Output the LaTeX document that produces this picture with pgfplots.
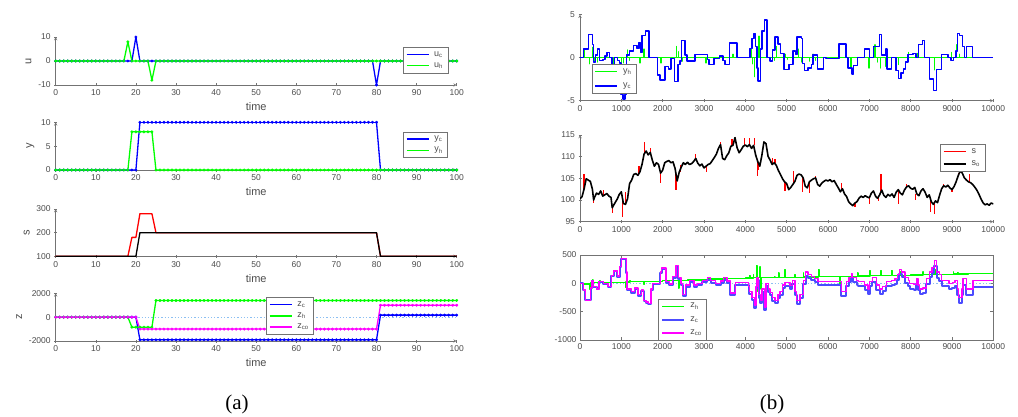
\documentclass[border=0pt]{standalone}
\usepackage{fontspec}
\setmainfont{Liberation Sans}
\newfontfamily\capfont{Liberation Serif}
\usepackage{pgfplots}
\pgfplotsset{compat=1.18}
\usepackage{pgfplotstable}
\definecolor{axgray}{gray}{0.45}
\definecolor{txtgray}{gray}{0.3}
\definecolor{mblue}{rgb}{0,0,1}
\definecolor{mgreen}{rgb}{0,1,0}
\definecolor{mmag}{rgb}{1,0,1}
\definecolor{zline}{rgb}{0.55,0.75,0.95}
\definecolor{zcblue}{rgb}{0.3,0.3,1}

\pgfplotstableread{
t uc uh yc yh s so zc zh zco
0 0 0 0 0 100 100 0 0 0
1 0 0 0 0 100 100 0 0 0
2 0 0 0 0 100 100 0 0 0
3 0 0 0 0 100 100 0 0 0
4 0 0 0 0 100 100 0 0 0
5 0 0 0 0 100 100 0 0 0
6 0 0 0 0 100 100 0 0 0
7 0 0 0 0 100 100 0 0 0
8 0 0 0 0 100 100 0 0 0
9 0 0 0 0 100 100 0 0 0
10 0 0 0 0 100 100 0 0 0
11 0 0 0 0 100 100 0 0 0
12 0 0 0 0 100 100 0 0 0
13 0 0 0 0 100 100 0 0 0
14 0 0 0 0 100 100 0 0 0
15 0 0 0 0 100 100 0 0 0
16 0 0 0 0 100 100 0 0 0
17 0 0 0 0 100 100 0 0 0
18 0 8 0 0 100 100 0 0 0
19 0 0 0 8 180 100 0 -840 0
20 10 0 0 8 180 100 0 -840 0
21 0 0 10 8 280 200 -1900 -840 -1000
22 0 0 10 8 280 200 -1900 -840 -1000
23 0 0 10 8 280 200 -1900 -840 -1000
24 0 -8 10 8 280 200 -1900 -840 -1000
25 0 0 10 0 200 200 -1900 1400 -1000
26 0 0 10 0 200 200 -1900 1400 -1000
27 0 0 10 0 200 200 -1900 1400 -1000
28 0 0 10 0 200 200 -1900 1400 -1000
29 0 0 10 0 200 200 -1900 1400 -1000
30 0 0 10 0 200 200 -1900 1400 -1000
31 0 0 10 0 200 200 -1900 1400 -1000
32 0 0 10 0 200 200 -1900 1400 -1000
33 0 0 10 0 200 200 -1900 1400 -1000
34 0 0 10 0 200 200 -1900 1400 -1000
35 0 0 10 0 200 200 -1900 1400 -1000
36 0 0 10 0 200 200 -1900 1400 -1000
37 0 0 10 0 200 200 -1900 1400 -1000
38 0 0 10 0 200 200 -1900 1400 -1000
39 0 0 10 0 200 200 -1900 1400 -1000
40 0 0 10 0 200 200 -1900 1400 -1000
41 0 0 10 0 200 200 -1900 1400 -1000
42 0 0 10 0 200 200 -1900 1400 -1000
43 0 0 10 0 200 200 -1900 1400 -1000
44 0 0 10 0 200 200 -1900 1400 -1000
45 0 0 10 0 200 200 -1900 1400 -1000
46 0 0 10 0 200 200 -1900 1400 -1000
47 0 0 10 0 200 200 -1900 1400 -1000
48 0 0 10 0 200 200 -1900 1400 -1000
49 0 0 10 0 200 200 -1900 1400 -1000
50 0 0 10 0 200 200 -1900 1400 -1000
51 0 0 10 0 200 200 -1900 1400 -1000
52 0 0 10 0 200 200 -1900 1400 -1000
53 0 0 10 0 200 200 -1900 1400 -1000
54 0 0 10 0 200 200 -1900 1400 -1000
55 0 0 10 0 200 200 -1900 1400 -1000
56 0 0 10 0 200 200 -1900 1400 -1000
57 0 0 10 0 200 200 -1900 1400 -1000
58 0 0 10 0 200 200 -1900 1400 -1000
59 0 0 10 0 200 200 -1900 1400 -1000
60 0 0 10 0 200 200 -1900 1400 -1000
61 0 0 10 0 200 200 -1900 1400 -1000
62 0 0 10 0 200 200 -1900 1400 -1000
63 0 0 10 0 200 200 -1900 1400 -1000
64 0 0 10 0 200 200 -1900 1400 -1000
65 0 0 10 0 200 200 -1900 1400 -1000
66 0 0 10 0 200 200 -1900 1400 -1000
67 0 0 10 0 200 200 -1900 1400 -1000
68 0 0 10 0 200 200 -1900 1400 -1000
69 0 0 10 0 200 200 -1900 1400 -1000
70 0 0 10 0 200 200 -1900 1400 -1000
71 0 0 10 0 200 200 -1900 1400 -1000
72 0 0 10 0 200 200 -1900 1400 -1000
73 0 0 10 0 200 200 -1900 1400 -1000
74 0 0 10 0 200 200 -1900 1400 -1000
75 0 0 10 0 200 200 -1900 1400 -1000
76 0 0 10 0 200 200 -1900 1400 -1000
77 0 0 10 0 200 200 -1900 1400 -1000
78 0 0 10 0 200 200 -1900 1400 -1000
79 0 0 10 0 200 200 -1900 1400 -1000
80 -10 0 10 0 200 200 -1900 1400 -1000
81 0 0 0 0 100 100 170 1400 1000
82 0 0 0 0 100 100 170 1400 1000
83 0 0 0 0 100 100 170 1400 1000
84 0 0 0 0 100 100 170 1400 1000
85 0 0 0 0 100 100 170 1400 1000
86 0 0 0 0 100 100 170 1400 1000
87 0 0 0 0 100 100 170 1400 1000
88 0 0 0 0 100 100 170 1400 1000
89 0 0 0 0 100 100 170 1400 1000
90 0 0 0 0 100 100 170 1400 1000
91 0 0 0 0 100 100 170 1400 1000
92 0 0 0 0 100 100 170 1400 1000
93 0 0 0 0 100 100 170 1400 1000
94 0 0 0 0 100 100 170 1400 1000
95 0 0 0 0 100 100 170 1400 1000
96 0 0 0 0 100 100 170 1400 1000
97 0 0 0 0 100 100 170 1400 1000
98 0 0 0 0 100 100 170 1400 1000
99 0 0 0 0 100 100 170 1400 1000
100 0 0 0 0 100 100 170 1400 1000
}\lefttab

\pgfplotsset{
  base/.style={
    scale only axis,
    anchor=south west,
    axis line style={axgray, line width=0.5pt, -},
    tick style={axgray, line width=0.5pt},
    major tick length=3pt,
    tick align=inside,
    ticklabel style={font=\fontsize{8.5}{9}\selectfont, text=txtgray},
    /pgf/number format/assume math mode=true,
    /pgf/number format/1000 sep={},
    scaled ticks=false,
    label style={font=\fontsize{11}{12}\selectfont, text=txtgray},
    legend style={draw=axgray, fill=white, font=\fontsize{9}{10}\selectfont, text=txtgray, inner xsep=3pt, inner ysep=2pt,
      row sep=1pt, cells={anchor=west}, /tikz/every odd column/.append style={column sep=3pt}},
    legend image code/.code={\draw[##1] (0pt,0pt) -- (22pt,0pt);},
    every axis plot/.append style={line width=1.3pt, line join=round},
  },
  boxoff/.style={axis x line=bottom, axis y line=left},
  leftax/.style={base, boxoff, width=401pt, height=48pt, xmin=0, xmax=100, xtick={0,10,...,100}, xlabel={time}},
  rightax/.style={base, width=413.3pt, xmin=0, xmax=10000, xtick={0,1000,...,10000}, legend style={row sep=3.5pt}},
  mk/.style={mark=*, mark size=1.3pt, mark options={line width=0.4pt}},
}

\begin{document}
\begin{tikzpicture}
\path[use as bounding box] (0,0) rectangle (1018pt,416pt);

% ---------- (a) u
\begin{axis}[leftax, at={(55.7pt,331pt)}, ymin=-10, ymax=10, ytick={-10,0,10}, ylabel={u},
  legend style={at={(0.979,0.79)}, anchor=north east}]
\addplot[mblue, mk] table[x=t,y=uc]{\lefttab};
\addplot[mgreen, mk] table[x=t,y=uh]{\lefttab};
\legend{u\textsubscript{c}, u\textsubscript{h}}
\end{axis}

% ---------- (a) y
\begin{axis}[leftax, at={(55.7pt,246pt)}, height=47.7pt, ymin=0, ymax=10, ytick={0,5,10}, ylabel={y},
  legend style={at={(0.978,0.803)}, anchor=north east}]
\addplot[mblue, mk] table[x=t,y=yc]{\lefttab};
\addplot[mgreen, mk] table[x=t,y=yh]{\lefttab};
\legend{y\textsubscript{c}, y\textsubscript{h}}
\end{axis}

% ---------- (a) s
\begin{axis}[leftax, at={(55.7pt,159.7pt)}, height=47.3pt, ymin=100, ymax=300, ytick={100,200,300}, ylabel={s}]
\addplot[red] table[x=t,y=s]{\lefttab};
\addplot[black] table[x=t,y=so]{\lefttab};
\end{axis}

% ---------- (a) z
\begin{axis}[leftax, at={(55.7pt,75pt)}, height=47.7pt, ymin=-2000, ymax=2000, ytick={-2000,0,2000}, ylabel={z},
  legend style={at={(0.524,0.916)}, anchor=north west}]
\addplot[zline, dotted, line width=1pt, forget plot] coordinates {(0,0) (100,0)};
\addplot[mblue, mk] table[x=t,y=zc]{\lefttab};
\addplot[mgreen, mk] table[x=t,y=zh]{\lefttab};
\addplot[mmag, mk] table[x=t,y=zco]{\lefttab};
\legend{z\textsubscript{c}, z\textsubscript{h}, z\textsubscript{co}}
\end{axis}

% ---------- (b) y
\begin{axis}[rightax, boxoff, at={(580pt,315.3pt)}, height=86pt, ymin=-5, ymax=5, ytick={-5,0,5},
  legend style={at={(0.028,0.423)}, anchor=north west, row sep=4pt}]
\addplot[mgreen] coordinates {(0,0) (100,0) (100,1.0) (100,0) (230,0) (230,-0.7) (230,0) (300,0) (300,1.2) (300,0)
 (350,0) (350,-0.4) (350,0) (420,0) (420,-0.5) (420,0) (800,0) (800,-0.8) (800,0) (1000,0) (1000,-0.8) (1000,0)
 (1060,0) (1060,-0.6) (1060,0) (1150,0) (1150,0.9) (1150,0) (1200,0) (1200,-0.3) (1200,0) (1450,0) (1450,-0.6) (1450,0)
 (1550,0) (1550,1.0) (1550,0) (1960,0) (1960,-0.6) (1960,0) (2330,0) (2330,1.3) (2330,0) (2380,0) (2380,0.7) (2380,0)
 (2480,0) (2480,-0.4) (2480,0) (3050,0) (3050,-0.6) (3050,0) (3450,0) (3450,-0.3) (3450,0) (3700,0) (3700,0.4) (3700,0)
 (4150,0) (4150,1.0) (4150,0) (4180,0) (4180,-0.7) (4180,0) (4230,0) (4230,-2.2) (4230,0) (4330,0) (4330,2.5) (4330,0)
 (4370,0) (4370,-0.5) (4370,0) (4700,0) (4700,-0.3) (4700,0) (4750,0) (4750,1.3) (4750,0) (4960,0) (4960,0.4) (4960,0)
 (5020,0) (5020,-0.2) (5020,0) (5280,0) (5280,1.0) (5280,0) (5360,0) (5360,-0.5) (5360,0) (5550,0) (5550,-0.4) (5550,0)
 (5640,0) (5640,0.4) (5640,0) (5700,0) (5700,-0.3) (5700,0) (6470,0) (6470,-0.8) (6470,0) (6560,0) (6560,-1.1) (6560,0)
 (6990,0) (6990,-1.2) (6990,0) (7140,0) (7140,1.5) (7140,0) (7200,0) (7200,-0.5) (7200,0) (7270,0) (7270,-1.2) (7270,0)
 (7390,0) (7390,-1.0) (7390,0) (7700,0) (7700,-0.8) (7700,0) (7950,0) (7950,0.6) (7950,0) (8160,0) (8160,0.5) (8160,0)
 (8570,0) (8570,-1.4) (8570,0) (8990,0) (8990,0.6) (8990,0) (9110,0) (9110,1.5) (9110,0) (9180,0) (9180,0.4) (9180,0)
 (10000,0)};
\addplot[mblue, const plot, line width=1.4pt] coordinates {(0,0) (80,1.0) (200,2.7) (300,1.5) (320,-0.5) (380,0.3) (430,1.0) (470,-0.3)
 (560,-0.2) (600,0.2) (650,0.6) (720,0) (770,-0.8) (840,0) (900,-0.3) (950,-0.6) (990,-4.3) (1040,-4.8) (1090,-4.3)
 (1120,0.3) (1200,0.8) (1290,1.4) (1380,1.1) (1430,1.8) (1470,0.6) (1500,2.6) (1590,3.1) (1670,0) (1870,-2.0)
 (1940,-2.6) (2060,-1.0) (2140,-1.3) (2200,-0.1) (2280,-2.8) (2370,-0.8) (2420,-0.4) (2460,2.0) (2540,0.3)
 (2590,-0.4) (2780,0.4) (3090,-0.2) (3120,-0.8) (3240,-0.1) (3380,0.2) (3460,-0.3) (3510,-0.8) (3610,1.7) (3800,0)
 (4110,1.1) (4160,2.2) (4210,2.8) (4250,1.3) (4280,-1.2) (4310,-2.7) (4360,1.0) (4400,3.1) (4460,4.4) (4520,0)
 (4600,-0.4) (4660,0.9) (4720,2.4) (4790,1.6) (4850,0.5) (4940,-1.4) (5060,-0.8) (5150,0.8) (5220,0.4) (5250,2.4)
 (5360,2.2) (5390,-0.7) (5430,-1.5) (5520,-1.2) (5600,-0.8) (5640,0.3) (5750,-1.3) (5890,0) (5950,-0.1) (6100,-0.1)
 (6270,1.6) (6440,0) (6480,-1.2) (6580,-1.9) (6620,-0.9) (6720,0) (6880,1.0) (7000,0) (7100,1.3) (7250,2.7)
 (7290,0.3) (7400,1.0) (7430,-1.3) (7530,0) (7650,-1.5) (7700,-2.4) (7770,-1.8) (7830,-1.3) (7880,-0.5) (7940,0.4)
 (8060,0.5) (8130,0) (8190,1.5) (8280,2.0) (8340,0) (8450,-2.5) (8550,-3.8) (8630,-1.4) (8740,0.4) (8900,0)
 (8980,-0.3) (9030,0) (9100,0.8) (9130,2.8) (9180,2.6) (9250,1.3) (9300,0) (9350,1.3) (9500,0) (10000,0)};
\legend{y\textsubscript{h}, y\textsubscript{c}}
\end{axis}

% ---------- (b) s
\begin{axis}[rightax, boxoff, at={(580pt,194.3pt)}, height=86.7pt, ymin=95, ymax=115, ytick={95,100,...,115},
  legend style={at={(0.98,0.896)}, anchor=north east, row sep=2pt}, unbounded coords=jump]
\addplot[red, line width=1.3pt] coordinates {(100,102.6) (100,106.1) (100,nan) (330,100.0) (330,99.3) (330,nan) (560,101) (560,102.3) (560,nan)
 (780,98.2) (780,97.1) (780,nan) (1020,100.5) (1020,96.0) (1020,nan) (1100,99.0) (1100,101.9) (1100,nan)
 (1430,106) (1430,107.8) (1430,nan) (1560,110.6) (1560,113.4) (1560,nan) (1700,111.0) (1700,112.0) (1700,nan)
 (1950,106.2) (1950,103.9) (1950,nan)
 (2320,106) (2320,102.2) (2320,nan) (2430,106.5) (2430,108.1) (2430,nan) (2800,109.6) (2800,110.6) (2800,nan)
 (3060,107.8) (3060,106.5) (3060,nan) (3400,112.8) (3400,113.5) (3400,nan) (3680,112.5) (3680,114.0) (3680,nan)
 (3980,112.4) (3980,114.2) (3980,nan)
 (4100,112.8) (4100,114.2) (4100,nan) (4220,112.6) (4220,114.2) (4220,nan) (4300,108.9) (4300,105.6) (4300,nan)
 (4320,108.5) (4320,106.9) (4320,nan) (4650,108.2) (4650,109.7) (4650,nan) (4720,108.6) (4720,109.5) (4720,nan)
 (4960,104.2) (4960,102.1) (4960,nan) (5160,103.6) (5160,106.8) (5160,nan) (5380,105.5) (5380,101.9) (5380,nan)
 (5560,104.2) (5560,101.6) (5560,nan) (5700,105.1) (5700,105.6) (5700,nan) (6330,102.3) (6330,104.0) (6330,nan)
 (6650,99.3) (6650,98.4) (6650,nan)
 (7000,100.5) (7000,99.0) (7000,nan) (7230,100.8) (7230,99.8) (7230,nan) (7280,102.0) (7280,106.0) (7280,nan)
 (7700,102.4) (7700,99.0) (7700,nan) (7900,103.0) (7900,103.8) (7900,nan) (8120,101.5) (8120,100.0) (8120,nan)
 (8480,100.8) (8480,97.3) (8480,nan)
 (8580,99.0) (8580,96.8) (8580,nan) (8800,103.3) (8800,103.8) (8800,nan) (9000,102.4) (9000,101.8) (9000,nan)
 (9150,105.6) (9150,106.2) (9150,nan) (9420,104.2) (9420,106.0)};
\addplot[black, line width=1.6pt] coordinates {(0,100.3) (50,100.8) (100,102.6) (150,104.9) (200,104.6) (250,104.3) (300,102.5) (330,100.0)
 (350,100.6) (400,101.6) (450,101.3) (500,102.1) (550,100.9) (600,101.2) (650,101.5) (700,100.9) (750,100.6) (780,98.2)
 (800,98.6) (850,99.4) (900,100.2) (950,101.3) (1000,101.9) (1050,99.2) (1100,99.0) (1150,100.3) (1200,103.8)
 (1250,104.6) (1300,105.9) (1350,106.1) (1400,105.7) (1450,106.5) (1500,108.2) (1550,110.6) (1600,111.3) (1650,110.4)
 (1700,111.0) (1750,109.2) (1800,107.8) (1850,108.6) (1900,108.2) (1950,106.2) (2000,106.9) (2050,108.6) (2100,108.9)
 (2150,109.1) (2200,108.6) (2250,108.8) (2300,107.3) (2350,104.4) (2400,106.4) (2450,107.6) (2500,108.6) (2550,108.2)
 (2600,108.7) (2650,108.2) (2700,108.4) (2750,108.9) (2800,109.6) (2850,108.5) (2900,107.9) (2950,108.3) (3000,107.4)
 (3050,107.8) (3100,108.2) (3150,108.4) (3200,109.1) (3250,109.8) (3300,110.6) (3350,111.9) (3400,112.8) (3450,109.6)
 (3500,109.3) (3550,110.2) (3600,110.9) (3650,112.4) (3700,112.6) (3750,114.4) (3800,112.1) (3850,110.9) (3900,111.6)
 (3950,112.4) (4000,112.7) (4050,112.3) (4100,112.8) (4150,111.9) (4200,112.6) (4250,110.4) (4300,108.9) (4350,107.8)
 (4400,110.3) (4450,113.4) (4500,113.0) (4550,110.1) (4600,109.2) (4650,108.2) (4700,108.6) (4750,108.0) (4800,106.8)
 (4850,105.9) (4900,104.9) (4950,104.2) (5000,103.8) (5050,102.4) (5100,102.9) (5150,103.6) (5200,104.3) (5250,105.7)
 (5300,106.0) (5350,105.8) (5400,105.1) (5450,103.2) (5500,102.8) (5550,104.2) (5600,104.6) (5650,104.9) (5700,105.1)
 (5750,103.6) (5800,103.2) (5850,103.9) (5900,104.3) (5950,104.6) (6000,104.4) (6050,104.7) (6100,104.2) (6150,104.5)
 (6200,103.6) (6250,102.8) (6300,101.9) (6350,102.6) (6400,101.4) (6450,100.8) (6500,99.6) (6550,99.1) (6600,98.7)
 (6650,99.3) (6700,99.6) (6750,100.4) (6800,100.9) (6850,100.6) (6900,101.0) (6950,100.7) (7000,100.5) (7050,101.6)
 (7100,102.1) (7150,100.9) (7200,100.4) (7250,101.2) (7300,102.3) (7350,101.1) (7400,100.6) (7450,101.3) (7500,100.9)
 (7550,101.4) (7600,100.6) (7650,101.8) (7700,102.4) (7750,101.6) (7800,101.2) (7850,102.3) (7900,103.0) (7950,103.3)
 (8000,102.7) (8050,102.5) (8100,102.9) (8150,101.4) (8200,101.0) (8250,102.1) (8300,102.6) (8350,101.8) (8400,100.6)
 (8450,101.2) (8500,99.6) (8550,99.0) (8600,99.8) (8650,99.4) (8700,101.1) (8750,102.6) (8800,103.3) (8850,103.0)
 (8900,103.4) (8950,102.8) (9000,102.4) (9050,103.1) (9100,104.2) (9150,105.6) (9200,106.7) (9250,106.2) (9300,105.1)
 (9350,104.6) (9400,104.2) (9450,104.0) (9500,103.6) (9550,103.0) (9600,102.3) (9650,101.4) (9700,100.3) (9750,99.4)
 (9800,98.9) (9850,99.1) (9900,98.8) (9950,99.3) (10000,99.1)};
\legend{s, s\textsubscript{o}}
\end{axis}

% ---------- (b) z
\begin{axis}[rightax, at={(580pt,76pt)}, height=85pt, ymin=-1000, ymax=500, ytick={-1000,-500,0,500},
  legend style={at={(0.189,0.482)}, anchor=north west, row sep=3pt}]
\addplot[zline, dotted, line width=1pt, forget plot] coordinates {(0,0) (10000,0)};
\addplot[mgreen, const plot] coordinates {(0,0) (100,-10) (240,-110) (255,5) (300,60) (315,10) (480,40) (495,15) (900,20)
 (1100,-70) (1115,25) (1210,55) (1225,30) (1550,-20) (1565,38) (2000,47) (2380,-80) (2395,50) (2600,60) (3100,100)
 (3115,76) (3500,82) (4000,94) (4100,140) (4115,95) (4190,150) (4205,98) (4270,320) (4285,100) (4300,-150) (4315,100)
 (4355,290) (4370,100) (4380,-100) (4395,102) (4700,110) (4715,104) (4800,180) (4815,105) (4960,240) (4975,106)
 (5200,150) (5215,108) (5400,180) (5415,110) (5770,240) (5785,115) (6000,118) (6290,-20) (6305,120) (6710,180)
 (6725,128) (7016,230) (7031,135) (7280,230) (7295,137) (7540,230) (7555,140) (7750,200) (7765,143) (8000,147)
 (8300,200) (8315,150) (8590,240) (8605,155) (9030,200) (9045,165) (9130,190) (9145,165) (9400,170) (10000,170)};
\addplot[zcblue, const plot, line width=2pt] coordinates {(0,0) (80,-121) (130,-301) (255,-83) (290,37) (320,-64) (400,-105)
 (460,25) (560,-6) (680,-58) (760,131) (815,211) (900,120) (960,289) (1000,428) (1120,187) (1135,-113) (1240,-164)
 (1320,-95) (1400,-216) (1480,-137) (1540,-318) (1600,-348) (1655,-369) (1720,-120) (1760,-20) (1940,178) (1980,247)
 (2080,6) (2160,-35) (2240,94) (2320,293) (2380,73) (2440,-28) (2480,-229) (2560,-59) (2650,20) (2760,-62) (2840,-33)
 (2960,16) (3080,65) (3160,14) (3280,-38) (3400,1) (3480,60) (3560,-1) (3640,-212) (3760,-23) (4080,-97) (4100,-197)
 (4160,-298) (4220,-429) (4260,-99) (4280,51) (4320,-250) (4360,-350) (4400,-151) (4460,-471) (4500,-52) (4560,-152)
 (4600,-213) (4650,-303) (4720,-354) (4790,-255) (4840,-206) (4900,-86) (4960,-47) (5080,-98) (5140,-9) (5200,-210)
 (5240,-360) (5320,-261) (5400,-12) (5460,137) (5520,87) (5600,56) (5680,15) (5760,-36) (6320,-223) (6440,-44)
 (6510,25) (6565,95) (6600,24) (6690,-27) (6730,-47) (6890,-109) (6970,-180) (7010,-51) (7075,19) (7170,-112)
 (7250,-183) (7320,-134) (7410,-55) (7540,-37) (7620,-8) (7680,62) (7730,161) (7780,111) (7860,10) (7940,-41)
 (7980,-92) (8080,-113) (8140,-14) (8180,-124) (8220,-195) (8300,-175) (8380,-16) (8460,103) (8520,182) (8570,301)
 (8630,101) (8690,50) (8750,-51) (8930,-103) (9010,-84) (9070,-54) (9130,-205) (9160,-355) (9240,-206) (9270,-27)
 (9350,-208) (9510,-59) (10000,-65)};
\addplot[mmag, const plot] coordinates {(0,0) (80,-120) (130,-300) (255,-80) (290,40) (320,-60) (400,-100) (460,30) (560,0)
 (680,-50) (760,140) (815,220) (900,130) (960,300) (1000,440) (1120,200) (1135,-100) (1240,-150) (1320,-80) (1400,-200)
 (1480,-120) (1540,-300) (1600,-330) (1655,-350) (1720,-100) (1760,0) (1940,200) (1980,270) (2080,30) (2160,-10)
 (2240,120) (2320,320) (2380,100) (2440,0) (2480,-200) (2560,-30) (2650,50) (2760,-30) (2840,0) (2960,50) (3080,100)
 (3160,50) (3280,0) (3400,40) (3480,100) (3560,40) (3640,-170) (3760,20) (4080,-50) (4100,-150) (4160,-250)
 (4220,-380) (4260,-50) (4280,100) (4320,-200) (4360,-300) (4400,-100) (4460,-420) (4500,0) (4560,-100) (4600,-160)
 (4650,-250) (4720,-300) (4790,-200) (4840,-150) (4900,-30) (4960,10) (5080,-40) (5140,50) (5200,-150) (5240,-300)
 (5320,-200) (5400,50) (5460,200) (5520,150) (5600,120) (5680,80) (5760,30) (6320,-150) (6440,30) (6510,100)
 (6565,170) (6600,100) (6690,50) (6730,30) (6890,-30) (6970,-100) (7010,30) (7075,100) (7170,-30) (7250,-100)
 (7320,-50) (7410,30) (7540,50) (7620,80) (7680,150) (7730,250) (7780,200) (7860,100) (7940,50) (7980,0) (8080,-20)
 (8140,80) (8180,-30) (8220,-100) (8300,-80) (8380,80) (8460,200) (8520,280) (8570,400) (8630,200) (8690,150)
 (8750,50) (8930,0) (9010,20) (9070,50) (9130,-100) (9160,-250) (9240,-100) (9270,80) (9350,-100) (9510,50) (10000,50)};
\legend{z\textsubscript{h}, z\textsubscript{c}, z\textsubscript{co}}
\end{axis}

\node[font=\capfont\fontsize{21}{22}\selectfont] at (237pt,12pt) {(a)};
\node[font=\capfont\fontsize{21}{22}\selectfont] at (772pt,12pt) {(b)};
\end{tikzpicture}
\end{document}
